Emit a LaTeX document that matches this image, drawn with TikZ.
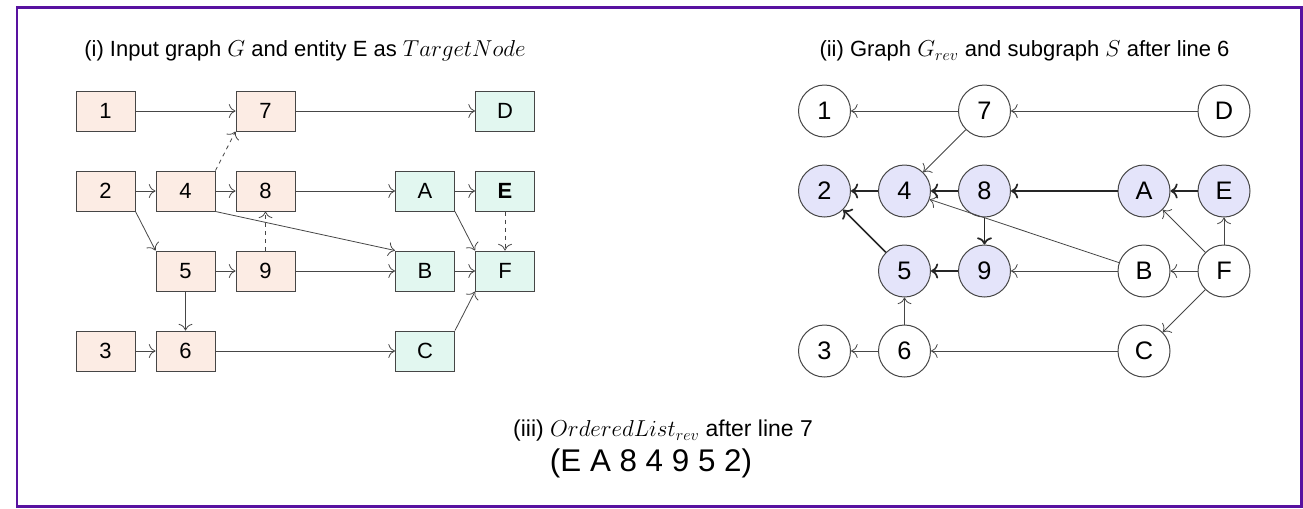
\documentclass[tikz,border=0pt]{standalone}
\usepackage{fontspec}
\setmainfont{Liberation Sans}
\usetikzlibrary{arrows.meta}
\definecolor{framec}{RGB}{88,18,160}
\definecolor{peach}{RGB}{252,236,228}
\definecolor{mint}{RGB}{226,247,240}
\definecolor{lav}{RGB}{228,228,250}
\definecolor{edgec}{RGB}{70,70,70}
\begin{document}
\begin{tikzpicture}[x=0.75pt,y=-0.75pt,
  boxn/.style={draw=edgec,line width=0.75pt,minimum width=44.25pt,minimum height=30pt,inner sep=0pt,font=\fontsize{16.5}{19}\selectfont},
  pbox/.style={boxn,fill=peach},
  gbox/.style={boxn,fill=mint},
  circn/.style={circle,draw=edgec,line width=0.75pt,minimum size=39pt,inner sep=0pt,font=\fontsize{19}{22}\selectfont,fill=white},
  scirc/.style={circn,fill=lav},
  edge/.style={-{To[scale=1.7]},draw=edgec,line width=0.6pt},
  dedge/.style={edge,dashed},
  tedge/.style={-{To[scale=1.2]},draw=black!85,line width=1.3pt},
  title/.style={font=\fontsize{16.5}{19}\selectfont,inner sep=0pt}
]
\useasboundingbox (0,0) rectangle (1303,508);
\draw[framec,line width=1.6pt] (17,7.5) rectangle (1301.5,506.5);

% titles
\node[title] (t1) at (305,51) {(i) Input graph $G$ and entity E as $TargetNode$};
\node[title] (t2) at (1024.5,51) {(ii) Graph $G_{rev}$ and subgraph $S$ after line 6};
\node[title,font=\fontsize{17.2}{19}\selectfont] (t3) at (663,431) {(iii) $OrderedList_{rev}$ after line 7};
\node[inner sep=0pt,font=\fontsize{23.5}{26}\selectfont] (t4) at (651,463) {(E A 8 4 9 5 2)};

% left graph
\node[pbox] (l1) at (105.5,111) {1};
\node[pbox] (l7) at (265.5,111) {7};
\node[gbox] (lD) at (505,111) {D};
\node[pbox] (l2) at (105.5,191) {2};
\node[pbox] (l4) at (185.5,191) {4};
\node[pbox] (l8) at (265.5,191) {8};
\node[gbox] (lA) at (425,191) {A};
\node[gbox] (lE) at (505,191) {\textbf{E}};
\node[pbox] (l5) at (185.5,271) {5};
\node[pbox] (l9) at (265.5,271) {9};
\node[gbox] (lB) at (425,271) {B};
\node[gbox] (lF) at (505,271) {F};
\node[pbox] (l3) at (105.5,351) {3};
\node[pbox] (l6) at (185.5,351) {6};
\node[gbox] (lC) at (425,351) {C};

\draw[edge] (l1) -- (l7);
\draw[edge] (l7) -- (lD);
\draw[edge] (l2) -- (l4);
\draw[edge] (l4) -- (l8);
\draw[edge] (l8) -- (lA);
\draw[edge] (lA) -- (lE);
\draw[dedge] (l4.north east) -- (l7.south west);
\draw[edge] (l2.south east) -- (l5.north west);
\draw[edge] (l4.south east) -- (lB.north west);
\draw[dedge] (l9) -- (l8);
\draw[edge] (l5) -- (l9);
\draw[edge] (l9) -- (lB);
\draw[edge] (lB) -- (lF);
\draw[edge] (lA.south east) -- (lF.north west);
\draw[dedge] (lE) -- (lF);
\draw[edge] (l5) -- (l6);
\draw[edge] (l3) -- (l6);
\draw[edge] (l6) -- (lC);
\draw[edge] (lC.north east) -- (lF.south west);

% right graph
\node[circn] (r1) at (824.5,111) {1};
\node[circn] (r7) at (984.5,111) {7};
\node[circn] (rD) at (1224,111) {D};
\node[scirc] (r2) at (824.5,191) {2};
\node[scirc] (r4) at (904.5,191) {4};
\node[scirc] (r8) at (984.5,191) {8};
\node[scirc] (rA) at (1144,191) {A};
\node[scirc] (rE) at (1224,191) {E};
\node[scirc] (r5) at (904.5,271) {5};
\node[scirc] (r9) at (984.5,271) {9};
\node[circn] (rB) at (1144,271) {B};
\node[circn] (rF) at (1224,271) {F};
\node[circn] (r3) at (824.5,351) {3};
\node[circn] (r6) at (904.5,351) {6};
\node[circn] (rC) at (1144,351) {C};

\draw[edge] (r7) -- (r1);
\draw[edge] (rD) -- (r7);
\draw[edge] (r7) -- (r4);
\draw[edge] (rB) -- (r4);
\draw[edge] (rF) -- (rA);
\draw[edge] (rF) -- (rE);
\draw[edge] (rF) -- (rB);
\draw[edge] (rF) -- (rC);
\draw[edge] (rB) -- (r9);
\draw[edge] (r6) -- (r5);
\draw[edge] (r6) -- (r3);
\draw[edge] (rC) -- (r6);
\draw[tedge] (r4) -- (r2);
\draw[tedge] (r8) -- (r4);
\draw[tedge] (rA) -- (r8);
\draw[tedge] (rE) -- (rA);
\draw[tedge] (r8) -- (r9);
\draw[tedge] (r9) -- (r5);
\draw[tedge] (r5) -- (r2);
\end{tikzpicture}
\end{document}
